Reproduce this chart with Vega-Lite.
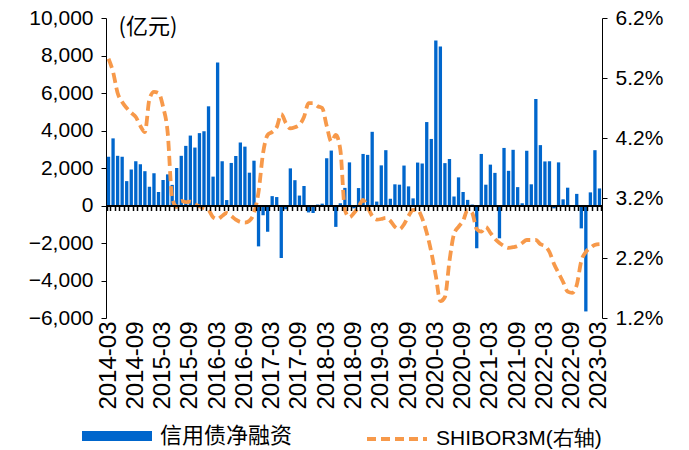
{
  "$schema": "https://vega.github.io/schema/vega-lite/v6.json",
  "width": 496,
  "height": 300,
  "autosize": {"type": "none"},
  "padding": {"left": 106, "top": 18, "right": 87, "bottom": 132},
  "background": "white",
  "config": {
    "view": {"stroke": null},
    "font": "Liberation Sans",
    "axis": {"grid": false, "labelFont": "Liberation Sans", "labelColor": "#000", "domainColor": "#000", "tickColor": "#000", "labelFontSize": 21}
  },
  "data": {"values": [
    {"date":"2014-03","bond":2600,"shibor":5.52},
    {"date":"2014-04","bond":3580,"shibor":5.3},
    {"date":"2014-05","bond":2650,"shibor":4.95},
    {"date":"2014-06","bond":2600,"shibor":4.8},
    {"date":"2014-07","bond":1300,"shibor":4.7},
    {"date":"2014-08","bond":1920,"shibor":4.62},
    {"date":"2014-09","bond":2360,"shibor":4.55},
    {"date":"2014-10","bond":2200,"shibor":4.4},
    {"date":"2014-11","bond":1830,"shibor":4.3},
    {"date":"2014-12","bond":1000,"shibor":4.85},
    {"date":"2015-01","bond":1720,"shibor":4.97},
    {"date":"2015-02","bond":720,"shibor":4.95},
    {"date":"2015-03","bond":1360,"shibor":4.72},
    {"date":"2015-04","bond":1660,"shibor":4.3},
    {"date":"2015-05","bond":1100,"shibor":3.2},
    {"date":"2015-06","bond":2000,"shibor":3.05},
    {"date":"2015-07","bond":2650,"shibor":3.15},
    {"date":"2015-08","bond":3180,"shibor":3.13},
    {"date":"2015-09","bond":3730,"shibor":3.14},
    {"date":"2015-10","bond":3090,"shibor":3.1},
    {"date":"2015-11","bond":3860,"shibor":3.06},
    {"date":"2015-12","bond":3960,"shibor":3.03},
    {"date":"2016-01","bond":5290,"shibor":3.0},
    {"date":"2016-02","bond":1540,"shibor":2.88},
    {"date":"2016-03","bond":7630,"shibor":2.85},
    {"date":"2016-04","bond":2360,"shibor":2.9},
    {"date":"2016-05","bond":290,"shibor":2.95},
    {"date":"2016-06","bond":2270,"shibor":2.9},
    {"date":"2016-07","bond":2640,"shibor":2.84},
    {"date":"2016-08","bond":3360,"shibor":2.8},
    {"date":"2016-09","bond":3140,"shibor":2.79},
    {"date":"2016-10","bond":1750,"shibor":2.82},
    {"date":"2016-11","bond":2390,"shibor":2.95},
    {"date":"2016-12","bond":-2180,"shibor":3.3},
    {"date":"2017-01","bond":-520,"shibor":3.95},
    {"date":"2017-02","bond":-1400,"shibor":4.25},
    {"date":"2017-03","bond":500,"shibor":4.3},
    {"date":"2017-04","bond":450,"shibor":4.38},
    {"date":"2017-05","bond":-2800,"shibor":4.6},
    {"date":"2017-06","bond":-200,"shibor":4.45},
    {"date":"2017-07","bond":1980,"shibor":4.36},
    {"date":"2017-08","bond":1350,"shibor":4.38},
    {"date":"2017-09","bond":530,"shibor":4.42},
    {"date":"2017-10","bond":1040,"shibor":4.55},
    {"date":"2017-11","bond":-370,"shibor":4.78},
    {"date":"2017-12","bond":-400,"shibor":4.78},
    {"date":"2018-01","bond":50,"shibor":4.73},
    {"date":"2018-02","bond":100,"shibor":4.7},
    {"date":"2018-03","bond":2520,"shibor":4.4},
    {"date":"2018-04","bond":2930,"shibor":4.14},
    {"date":"2018-05","bond":-1140,"shibor":4.25},
    {"date":"2018-06","bond":120,"shibor":4.0},
    {"date":"2018-07","bond":940,"shibor":3.0},
    {"date":"2018-08","bond":2300,"shibor":2.88},
    {"date":"2018-09","bond":-150,"shibor":2.95},
    {"date":"2018-10","bond":930,"shibor":3.05},
    {"date":"2018-11","bond":2750,"shibor":3.17},
    {"date":"2018-12","bond":2700,"shibor":3.05},
    {"date":"2019-01","bond":3930,"shibor":2.9},
    {"date":"2019-02","bond":210,"shibor":2.84},
    {"date":"2019-03","bond":2140,"shibor":2.85},
    {"date":"2019-04","bond":2950,"shibor":2.87},
    {"date":"2019-05","bond":360,"shibor":2.82},
    {"date":"2019-06","bond":1130,"shibor":2.72},
    {"date":"2019-07","bond":1110,"shibor":2.68},
    {"date":"2019-08","bond":2130,"shibor":2.76},
    {"date":"2019-09","bond":1020,"shibor":2.9},
    {"date":"2019-10","bond":380,"shibor":3.0},
    {"date":"2019-11","bond":2290,"shibor":3.0},
    {"date":"2019-12","bond":2240,"shibor":2.86},
    {"date":"2020-01","bond":4450,"shibor":2.62},
    {"date":"2020-02","bond":3550,"shibor":2.3},
    {"date":"2020-03","bond":8800,"shibor":1.9},
    {"date":"2020-04","bond":8480,"shibor":1.48},
    {"date":"2020-05","bond":2260,"shibor":1.55},
    {"date":"2020-06","bond":2480,"shibor":2.15},
    {"date":"2020-07","bond":480,"shibor":2.6},
    {"date":"2020-08","bond":1500,"shibor":2.72},
    {"date":"2020-09","bond":720,"shibor":2.82},
    {"date":"2020-10","bond":300,"shibor":3.0},
    {"date":"2020-11","bond":50,"shibor":2.95},
    {"date":"2020-12","bond":-2280,"shibor":2.68},
    {"date":"2021-01","bond":2750,"shibor":2.64},
    {"date":"2021-02","bond":1110,"shibor":2.72},
    {"date":"2021-03","bond":2180,"shibor":2.62},
    {"date":"2021-04","bond":1740,"shibor":2.52},
    {"date":"2021-05","bond":-1750,"shibor":2.45},
    {"date":"2021-06","bond":3070,"shibor":2.4},
    {"date":"2021-07","bond":1850,"shibor":2.37},
    {"date":"2021-08","bond":2970,"shibor":2.38},
    {"date":"2021-09","bond":980,"shibor":2.4},
    {"date":"2021-10","bond":120,"shibor":2.45},
    {"date":"2021-11","bond":2920,"shibor":2.5},
    {"date":"2021-12","bond":1130,"shibor":2.5},
    {"date":"2022-01","bond":5680,"shibor":2.5},
    {"date":"2022-02","bond":3220,"shibor":2.43},
    {"date":"2022-03","bond":2350,"shibor":2.4},
    {"date":"2022-04","bond":2360,"shibor":2.3},
    {"date":"2022-05","bond":-150,"shibor":2.1},
    {"date":"2022-06","bond":2300,"shibor":1.95},
    {"date":"2022-07","bond":330,"shibor":1.8},
    {"date":"2022-08","bond":950,"shibor":1.64},
    {"date":"2022-09","bond":-80,"shibor":1.62},
    {"date":"2022-10","bond":620,"shibor":1.75},
    {"date":"2022-11","bond":-1220,"shibor":2.15},
    {"date":"2022-12","bond":-5650,"shibor":2.3},
    {"date":"2023-01","bond":700,"shibor":2.37},
    {"date":"2023-02","bond":2950,"shibor":2.42},
    {"date":"2023-03","bond":910,"shibor":2.43}
  ]},
  "layer": [
    {
      "mark": {"type": "bar", "color": "#0066CC"},
      "encoding": {
        "x": {
          "field": "date", "type": "ordinal",
          "scale": {"paddingInner": 0.27, "paddingOuter": 0.19},
          "axis": {
            "orient": "bottom",
            "values": ["2014-03","2014-09","2015-03","2015-09","2016-03","2016-09","2017-03","2017-09","2018-03","2018-09","2019-03","2019-09","2020-03","2020-09","2021-03","2021-09","2022-03","2022-09","2023-03"],
            "labelAngle": -90, "domain": false, "ticks": false, "title": null,
            "labelFontSize": 24, "labelPadding": 3
          }
        },
        "y": {
          "field": "bond", "type": "quantitative",
          "scale": {"domain": [-6000, 10000], "nice": false, "zero": false},
          "axis": {
            "values": [-6000,-4000,-2000,0,2000,4000,6000,8000,10000],
            "format": ",.0f", "tickSize": 5, "labelPadding": 8,
            "title": "(亿元)", "titleAngle": 0, "titleAlign": "left", "titleBaseline": "middle",
            "titleX": 12, "titleY": 8, "titleFontSize": 22, "titleFontWeight": "normal",
            "titleFont": "Noto Sans CJK SC"
          }
        },
        "fill": {
          "datum": "信用债净融资", "type": "nominal",
          "scale": {"range": ["#0066CC"]},
          "legend": {
            "orient": "none", "legendX": -3, "legendY": 404, "title": null,
            "symbolType": "M-2.5,-0.36H2.5V0.36H-2.5Z", "symbolSize": 784, "symbolStrokeWidth": 0,
            "labelFontSize": 22, "labelFont": "Noto Sans CJK SC", "labelOffset": 29, "padding": 0, "labelLimit": 300
          }
        }
      }
    },
    {
      "mark": {"type": "line", "interpolate": "monotone", "strokeDash": [10, 5], "strokeWidth": 3.8},
      "encoding": {
        "x": {
          "field": "date", "type": "ordinal",
          "axis": {
            "orient": "bottom",
            "offset": -112.5, "labels": false, "title": null, "domain": true, "domainWidth": 2,
            "ticks": true, "tickBand": "extent", "tickSize": 5, "tickWidth": 1.5, "zindex": 1
          }
        },
        "y": {
          "field": "shibor", "type": "quantitative",
          "scale": {"domain": [1.2, 6.2], "nice": false, "zero": false},
          "axis": {
            "orient": "right", "values": [1.2,2.2,3.2,4.2,5.2,6.2],
            "labelExpr": "format(datum.value, '.1f') + '%'",
            "tickSize": 5, "labelPadding": 8, "title": null
          }
        },
        "stroke": {
          "datum": "SHIBOR3M(右轴)", "type": "nominal",
          "scale": {"range": ["#F7994A"]},
          "legend": {
            "orient": "none", "legendX": 274, "legendY": 404, "title": null,
            "symbolType": "M-2,0H2", "symbolSize": 900, "symbolDash": [9, 5], "symbolStrokeWidth": 3.8,
            "labelFontSize": 21, "labelFont": "Liberation Sans", "labelOffset": 22, "padding": 0, "labelLimit": 300
          }
        }
      }
    }
  ],
  "resolve": {"scale": {"y": "independent", "fill": "independent", "stroke": "independent"}, "axis": {"x": "independent"}}
}
